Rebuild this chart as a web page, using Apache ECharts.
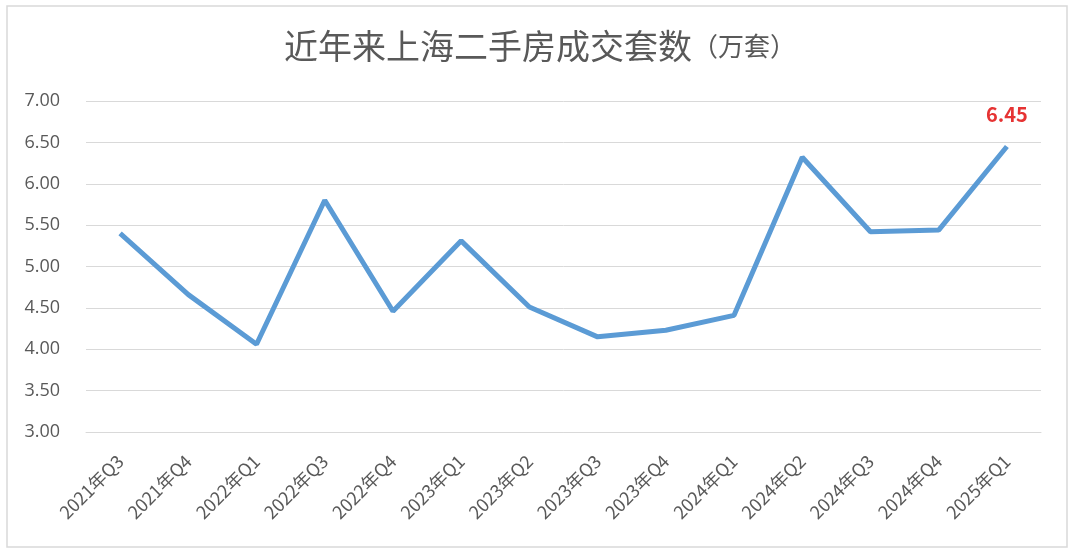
<!DOCTYPE html>
<html><head><meta charset="utf-8">
<script src="https://cdn.jsdelivr.net/npm/echarts@6/dist/echarts.min.js"></script>
<style>html,body{margin:0;padding:0;background:#fff}#c{width:1080px;height:557px}</style>
</head><body><div id="c"></div>
<script>
const categories = ['2021年Q3','2021年Q4','2022年Q1','2022年Q3','2022年Q4','2023年Q1','2023年Q2','2023年Q3','2023年Q4','2024年Q1','2024年Q2','2024年Q3','2024年Q4','2025年Q1'];
const values = [5.40, 4.66, 4.06, 5.80, 4.46, 5.31, 4.51, 4.15, 4.23, 4.41, 6.32, 5.42, 5.44, 6.45];
const yTicks = [3, 7, 0.5];
const titleMain = '近年来上海二手房成交套数';
const titleUnit = '（万套）';

const chart = echarts.init(document.getElementById('c'), null, {renderer:'canvas'});
const font = '"Noto Sans CJK SC","Noto Sans",sans-serif';
const last = values.length - 1;
chart.setOption({
  animation:false,
  backgroundColor:'#fff',
  graphic:[{type:'rect',shape:{x:7,y:6,width:1060,height:541},style:{fill:'none',stroke:'#d9d9d9',lineWidth:1.5},z:-1}],
  title:{
    text:'{a|'+titleMain+'}{b|'+titleUnit+'}',
    left:'center', top:24,
    textStyle:{rich:{a:{fontSize:34,fontWeight:'normal',color:'#595959',fontFamily:font},b:{fontSize:26,fontWeight:'normal',color:'#595959',fontFamily:font}}}
  },
  grid:{left:86,right:39,top:101,bottom:125,containLabel:false},
  xAxis:{
    type:'category', data:categories, boundaryGap:true,
    axisLine:{show:true,lineStyle:{color:'#d9d9d9'}}, axisTick:{show:false},
    axisLabel:{rotate:45,fontSize:18,color:'#595959',margin:26,interval:0,fontFamily:font}
  },
  yAxis:{
    type:'value', min:yTicks[0], max:yTicks[1], interval:yTicks[2],
    axisLine:{show:false}, axisTick:{show:false},
    axisLabel:{fontSize:18,color:'#595959',margin:26,formatter:v=>v.toFixed(2),fontFamily:'"Open Sans","Noto Sans",sans-serif'},
    splitLine:{lineStyle:{color:'#d9d9d9',width:1}}
  },
  series:[{
    type:'line', data:values,
    symbol:'none',
    lineStyle:{color:'#5b9bd5',width:5}
  },{
    type:'scatter', data:values.map((v,i)=>i===last?[i,v]:null).filter(d=>d),
    symbolSize:0, silent:true,
    label:{show:true,position:'top',distance:22,formatter:p=>p.value[1].toFixed(2),color:'#e00000',fontSize:20,fontWeight:'bold',fontFamily:font}
  }]
});
</script></body></html>
